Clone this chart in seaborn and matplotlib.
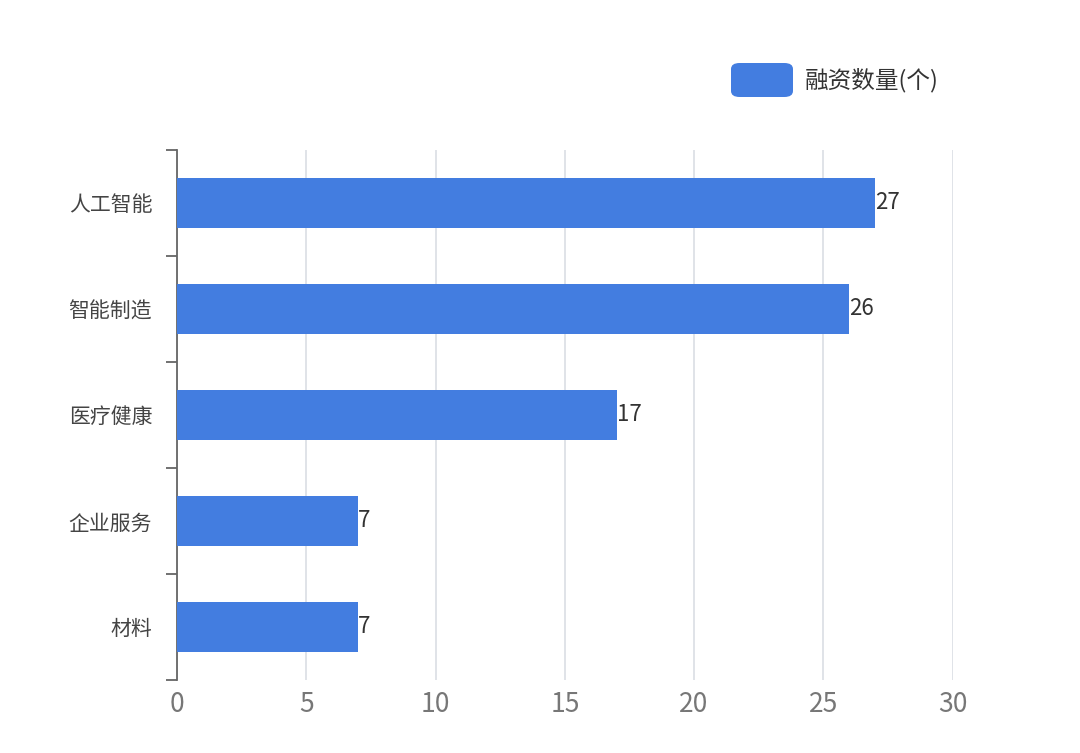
import matplotlib
matplotlib.use("Agg")
import matplotlib.pyplot as plt
import seaborn as sns
import pandas as pd
from matplotlib.patches import FancyBboxPatch

categories = ["人工智能", "智能制造", "医疗健康", "企业服务", "材料"]
values = [27, 26, 17, 7, 7]
series_name = "融资数量(个)"
xticks = [0, 5, 10, 15, 20, 25, 30]

plt.rcParams["font.family"] = "Noto Sans CJK SC"
color = "#437de0"

fig = plt.figure(figsize=(10.8, 7.53), dpi=100)
ax = fig.add_axes([0.164, 0.097, 0.718, 0.704])
df = pd.DataFrame({"cat": categories, "val": values})
sns.barplot(data=df, x="val", y="cat", color=color, width=0.47, ax=ax, saturation=1, zorder=3)
ax.set_xlim(0, 30)
ax.set_ylim(len(categories) - 0.5, -0.5)
ax.set_xticks(xticks)
ax.set_xticklabels([str(t) for t in xticks], fontsize=19, color="#777777")
ax.tick_params(axis="x", length=0, pad=8)
ax.set_yticks(range(len(categories)))
ax.set_yticklabels(categories, fontsize=15, color="#444444")
ax.tick_params(axis="y", length=0, pad=18)
ax.set_yticks([i - 0.5 for i in range(len(categories) + 1)], minor=True)
ax.tick_params(axis="y", which="minor", length=8, color="#666666", width=1.3)
ax.set_xlabel(""); ax.set_ylabel("")
ax.grid(axis="x", color="#dde0e6", linewidth=1.3, zorder=0)
ax.set_axisbelow(True)
for s in ["top", "right", "bottom"]:
    ax.spines[s].set_visible(False)
ax.spines["left"].set_color("#666666")
ax.spines["left"].set_linewidth(1.3)
for i, v in enumerate(values):
    ax.text(v, i, str(v), va="center", ha="left", fontsize=16, color="#333333")

# legend
fig.patches.append(FancyBboxPatch((731/1080, 1-97/753), 62/1080, 34/753,
    boxstyle="round,pad=0,rounding_size=0.008", transform=fig.transFigure,
    facecolor=color, edgecolor="none"))
fig.text(805/1080, 1-80/753, series_name, fontsize=17, color="#333333", va="center", ha="left")

fig.savefig("out.png", dpi=100)
